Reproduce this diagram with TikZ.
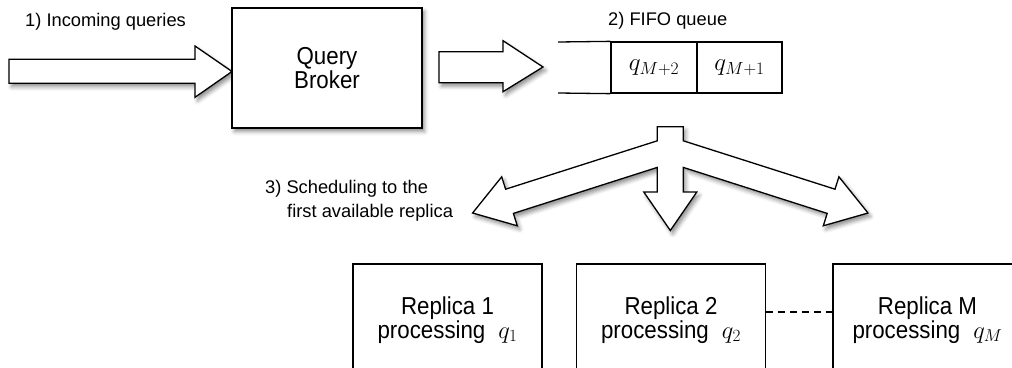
\RequirePackage{fix-cm}
\documentclass[tikz,border=0pt]{standalone}
\usepackage{fontspec}
\setmainfont{Liberation Sans}
\newfontfamily\boxfont[FakeStretch=0.91]{Liberation Sans}
\usetikzlibrary{shadows.blur}

\tikzset{
  outline/.style={draw=black, line width=1.3pt, fill=white},
  softshadow/.style={blur shadow={shadow xshift=2.5pt, shadow yshift=-3.5pt,
      shadow blur radius=4pt, shadow opacity=45}},
  steplabel/.style={font=\fontsize{18.3}{22}\selectfont, inner sep=0pt},
  replicabox/.style={draw=black, line width=1.3pt, fill=white,
      minimum width=189pt, minimum height=112pt, inner sep=0pt,
      align=center, font=\boxfont\fontsize{24.5}{22}\selectfont},
  cell/.style={draw=black, line width=1.3pt, minimum height=51pt,
      inner sep=0pt, font=\fontsize{25}{26}\selectfont},
}

\begin{document}
\begin{tikzpicture}[x=1pt, y=-1pt]
\useasboundingbox (0,0) rectangle (1012,367);
\clip (0,0) rectangle (1012,367);

% incoming queries arrow
\draw[outline, softshadow]
  (9,59.3) -- (195,59.3) -- (195,46) -- (232,71.5) -- (195,97.3)
  -- (195,83.3) -- (9,83.3) -- cycle;
\node[steplabel, anchor=base west] (lblin) at (25,26) {1) Incoming queries};

% broker
\node[draw=black, line width=1.6pt, fill=white, softshadow,
      minimum width=190pt, minimum height=120pt, inner sep=0pt,
      align=center, font=\boxfont\fontsize{24.5}{24}\selectfont]
  (broker) at (327,68) {Query\\Broker};

% arrow broker -> queue
\draw[outline, softshadow]
  (439,51.7) -- (503,51.7) -- (503,40.7) -- (543,67) -- (503,91.7)
  -- (503,82.7) -- (439,82.7) -- cycle;

% FIFO queue: open on the left, two occupied cells
\node[cell, minimum width=86pt] (qa) at (654,67.5) {$q_{M+2}$};
\node[cell, minimum width=85pt] (qb) at (739.5,67.5) {$q_{M+1}$};
\coordinate (qopentop) at (558,42);
\coordinate (qopenbot) at (558,93);
\draw[line width=1.3pt] (qopentop) -- (qa.north west);
\draw[line width=1.3pt] (qopenbot) -- (qa.south west);
\node[steplabel, anchor=base west] (lblq) at (608,25) {2) FIFO queue};

% three-way dispatch arrow
\draw[outline, softshadow]
  (657.3,126.7) -- (683.3,126.7) -- (683.3,140.8)
  -- (835,189.2) -- (838.9,176.8) -- (868,213) -- (823.3,225.8)
  -- (827.2,213.4) -- (683.3,167.4)
  -- (683.3,192) -- (696.8,192) -- (670.3,230.5) -- (643.8,192)
  -- (657.3,192) -- (657.3,167.4)
  -- (513.4,213.4) -- (517.3,225.8) -- (472.6,213) -- (501.7,176.8)
  -- (505.6,189.2) -- (657.3,140.8) -- cycle;
\node[steplabel, anchor=base west] (lblsa) at (265,193) {3) Scheduling to the};
\node[steplabel, anchor=base west] (lblsb) at (287,217) {first available replica};

% replicas
\node[replicabox] (r1) at (447.5,320) {Replica 1\\processing\hspace{13pt}$q_1$};
\node[replicabox] (r2) at (671,320) {Replica 2\\processing\hspace{13pt}$q_2$};
\node[replicabox] (rM) at (927.5,320) {Replica M\\processing\hspace{13pt}$q_M$};
\draw[line width=1.3pt, dash pattern=on 7pt off 5pt]
  ([yshift=8pt]r2.east) -- ([yshift=8pt]rM.west);
\end{tikzpicture}
\end{document}
